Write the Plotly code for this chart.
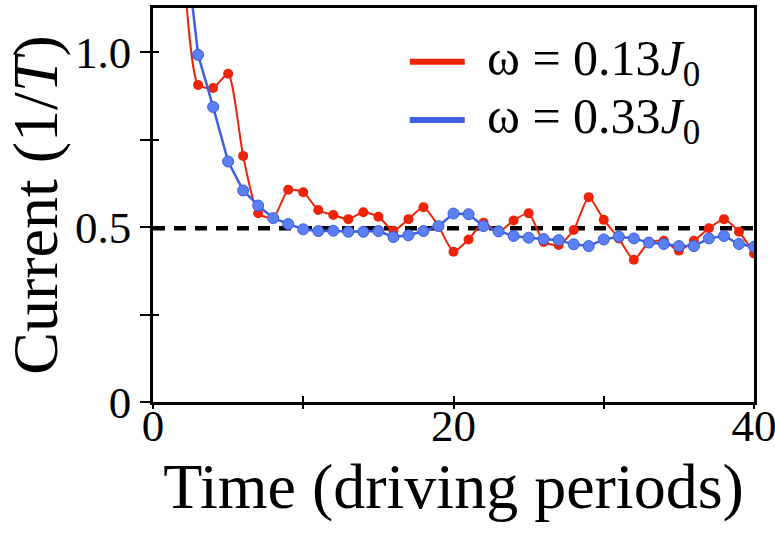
import plotly.graph_objects as go

# ---- data ----
time_periods = list(range(1, 41))
current_w013 = [1.75, 1.25, 0.907, 0.898, 0.939, 0.704, 0.540, 0.526, 0.607, 0.600,
                0.549, 0.535, 0.523, 0.543, 0.530, 0.490, 0.523, 0.557, 0.503, 0.430,
                0.465, 0.513, 0.487, 0.519, 0.540, 0.458, 0.449, 0.492, 0.586, 0.521,
                0.468, 0.407, 0.457, 0.461, 0.433, 0.461, 0.497, 0.523, 0.487, 0.425]
current_w033 = [1.75, 1.365, 0.993, 0.844, 0.688, 0.605, 0.562, 0.526, 0.509, 0.494,
                0.489, 0.490, 0.487, 0.487, 0.489, 0.472, 0.477, 0.489, 0.503, 0.539,
                0.537, 0.503, 0.488, 0.475, 0.470, 0.466, 0.463, 0.451, 0.446, 0.465,
                0.473, 0.468, 0.456, 0.452, 0.446, 0.446, 0.468, 0.475, 0.452, 0.444]
reference_x = [0, 40]
reference_level = 0.497

x_tickvals = [0, 10, 20, 30, 40]
x_ticktext = ["0", "", "20", "", "40"]
y_tickvals = [0, 0.25, 0.5, 0.75, 1.0]
y_ticktext = ["0", "", "0.5", "", "1.0"]
label_w013 = "ω = 0.13<i>J</i><sub>0</sub>"
label_w033 = "ω = 0.33<i>J</i><sub>0</sub>"

RED = "#ee2408"
BLUE_LINE = "#3f5fe2"
BLUE_FILL = "#5b80f4"
BLUE_EDGE = "#3a5ae0"
FONT = "Liberation Serif"

fig = go.Figure()

fig.add_trace(go.Scatter(
    x=reference_x, y=[reference_level] * len(reference_x), mode="lines",
    line=dict(color="black", width=4.5, dash="12px,9px"),
    showlegend=False, hoverinfo="skip"))

fig.add_trace(go.Scatter(
    x=time_periods, y=current_w013, mode="lines+markers", name=label_w013,
    line=dict(color=RED, width=2, shape="spline", smoothing=0.6),
    marker=dict(color=RED, size=10, line=dict(width=0)),
    showlegend=False))

fig.add_trace(go.Scatter(
    x=time_periods, y=current_w033, mode="lines+markers", name=label_w033,
    line=dict(color=BLUE_LINE, width=2.5),
    marker=dict(color=BLUE_FILL, size=11, line=dict(color=BLUE_EDGE, width=1)),
    showlegend=False))

# invisible trace for the inner half of the tick marks
fig.add_trace(go.Scatter(x=[None], y=[None], xaxis="x2", yaxis="y2",
                         showlegend=False, hoverinfo="skip"))

tickfont = dict(family=FONT, size=45, color="black")
titlefont = dict(family=FONT, size=64, color="black")

# legend drawn as keys + labels (line-only keys, tight row spacing as in the reference)
legend_rows = [(label_w013, RED, 0.8635), (label_w033, BLUE_LINE, 0.716)]
for text, color, ypos in legend_rows:
    fig.add_shape(type="line", xref="paper", yref="paper",
                  x0=0.4273, x1=0.5187, y0=ypos, y1=ypos,
                  line=dict(color=color, width=6))
    fig.add_annotation(xref="paper", yref="paper", x=0.553, y=ypos,
                       xanchor="left", yanchor="middle", text=text, showarrow=False,
                       font=dict(family=FONT, size=50, color="black"))

fig.update_layout(
    width=775, height=536,
    margin=dict(l=153, r=21, t=8, b=134, autoexpand=False),
    plot_bgcolor="white", paper_bgcolor="white",
    showlegend=False,
    xaxis=dict(range=[0, 40], showline=True, linecolor="black", linewidth=2.5,
               mirror=True, ticks="outside", ticklen=4, tickwidth=2, tickcolor="black",
               tickvals=x_tickvals, ticktext=x_ticktext, tickfont=tickfont,
               ticklabelstandoff=-22, ticklabeloverflow="allow", automargin=False,
               showgrid=False, zeroline=False,
               title=dict(text="Time (driving periods)", font=titlefont, standoff=4)),
    yaxis=dict(range=[0, 1.127], showline=True, linecolor="black", linewidth=2.5,
               mirror=True, ticks="outside", ticklen=10, tickwidth=2, tickcolor="black",
               tickvals=y_tickvals, ticktext=y_ticktext, tickfont=tickfont,
               ticklabelstandoff=0, ticklabeloverflow="allow", automargin=False,
               showgrid=False, zeroline=False,
               title=dict(text="Current (1/<i>T</i>)", font=titlefont, standoff=2)),
    xaxis2=dict(range=[0, 40], overlaying="x", anchor="y2", side="bottom",
                ticks="inside", ticklen=6, tickwidth=2, tickcolor="black",
                tickvals=x_tickvals, showticklabels=False, showline=False,
                showgrid=False, zeroline=False),
    yaxis2=dict(range=[0, 1.127], overlaying="y", anchor="x2", side="left",
                ticks="inside", ticklen=6, tickwidth=2, tickcolor="black",
                tickvals=y_tickvals, showticklabels=False, showline=False,
                showgrid=False, zeroline=False),
)

fig.write_html("out.html", config={"displayModeBar": False},
               post_script="document.body.style.margin='0';")
